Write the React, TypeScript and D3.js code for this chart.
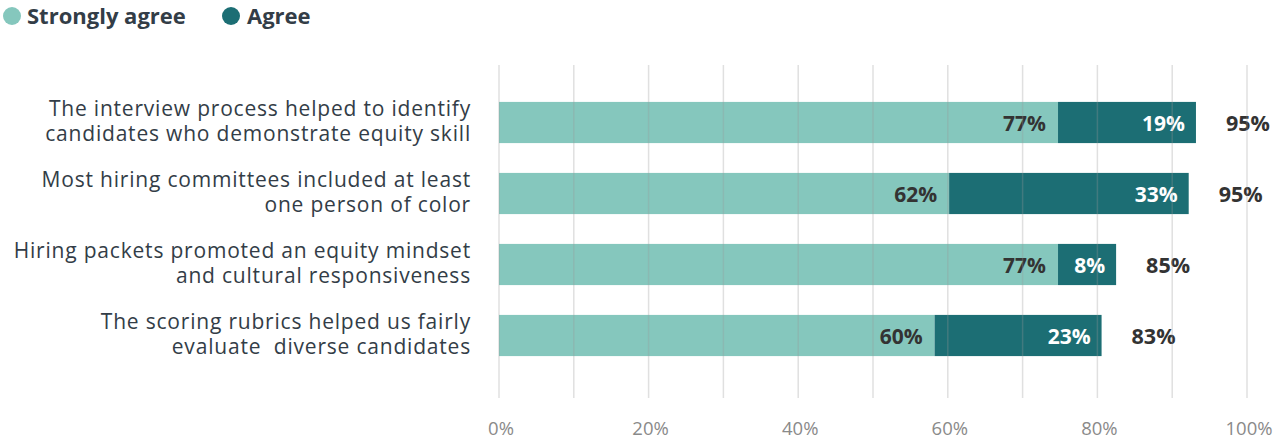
import React from "react";
import * as d3 from "d3";

const categories = [
  ["The interview process helped to identify", "candidates who demonstrate equity skill"],
  ["Most hiring committees included at least", "one person of color"],
  ["Hiring packets promoted an equity mindset", "and cultural responsiveness"],
  ["The scoring rubrics helped us fairly", "evaluate  diverse candidates"],
];
const stronglyAgree = [77, 62, 77, 60];
const agree = [19, 33, 8, 23];
const totals = [95, 95, 85, 83];
const axisTicks = [0, 20, 40, 60, 80, 100];
const gridTicks = [0, 10, 20, 30, 40, 50, 60, 70, 80, 90, 100];
const seriesNames = ["Strongly agree", "Agree"];
const colors = ["#85c7bd", "#1c6e74"];

const W = 1274;
const H = 439;
const FONT = "'Open Sans', sans-serif";

export default function App() {
  const left = 499;
  const axisX = d3.scaleLinear().domain([0, 100]).range([left, 1247]);
  const barX = d3.scaleLinear().domain([0, 100]).range([left, 1225]);
  const y = d3
    .scaleBand<number>()
    .domain(d3.range(categories.length))
    .range([87, 371])
    .paddingInner(0.42)
    .paddingOuter(0.21);

  return (
    <div style={{ position: "absolute", left: 0, top: 0 }}>
      <svg width={W} height={H} style={{ display: "block", fontFamily: FONT }}>
        {/* legend */}
        <g>
          <circle cx={12} cy={16} r={9} fill={colors[0]} />
          <text x={27} y={24} fontSize={22} fontWeight={700} fill="#333d47">
            {seriesNames[0]}
          </text>
          <circle cx={231} cy={16} r={9} fill={colors[1]} />
          <text x={247} y={24} fontSize={22} fontWeight={700} fill="#333d47">
            {seriesNames[1]}
          </text>
        </g>

        {/* bars */}
        {categories.map((c, i) => {
          const y0 = y(i)!;
          const bh = y.bandwidth();
          const cy = y0 + bh / 2;
          const s = stronglyAgree[i];
          const a = agree[i];
          return (
            <g key={i}>
              <rect x={barX(0)} y={y0} width={barX(s) - barX(0)} height={bh} fill={colors[0]} />
              <rect x={barX(s)} y={y0} width={barX(s + a) - barX(s)} height={bh} fill={colors[1]} />
              <text
                x={barX(s) - 12}
                y={cy + 8.5}
                textAnchor="end"
                fontSize={21}
                fontWeight={700}
                fill="#333"
              >
                {s}%
              </text>
              <text
                x={barX(s + a) - 11}
                y={cy + 8.5}
                textAnchor="end"
                fontSize={21}
                fontWeight={700}
                fill="#fff"
              >
                {a}%
              </text>
              <text
                x={barX(s + a) + 30}
                y={cy + 8.5}
                textAnchor="start"
                fontSize={21.5}
                fontWeight={700}
                fill="#333"
              >
                {totals[i]}%
              </text>
              <text
                x={471}
                y={cy - 7}
                textAnchor="end"
                fontSize={21}
                letterSpacing={0.8}
                fill="#333d47"
                style={{ whiteSpace: "pre" }}
              >
                <tspan x={471}>{c[0]}</tspan>
                <tspan x={471} dy={25.5}>
                  {c[1]}
                </tspan>
              </text>
            </g>
          );
        })}

        {/* grid on top */}
        {gridTicks.map((t) => (
          <line
            key={t}
            x1={axisX(t)}
            x2={axisX(t)}
            y1={65}
            y2={398}
            stroke="#999"
            strokeOpacity={0.3}
            strokeWidth={1.5}
          />
        ))}

        {/* axis labels */}
        {axisTicks.map((t) => (
          <text
            key={t}
            x={axisX(t) + 2}
            y={435}
            textAnchor="middle"
            fontSize={18.5}
            fill="#8a8a8a"
          >
            {t}%
          </text>
        ))}
      </svg>
    </div>
  );
}
